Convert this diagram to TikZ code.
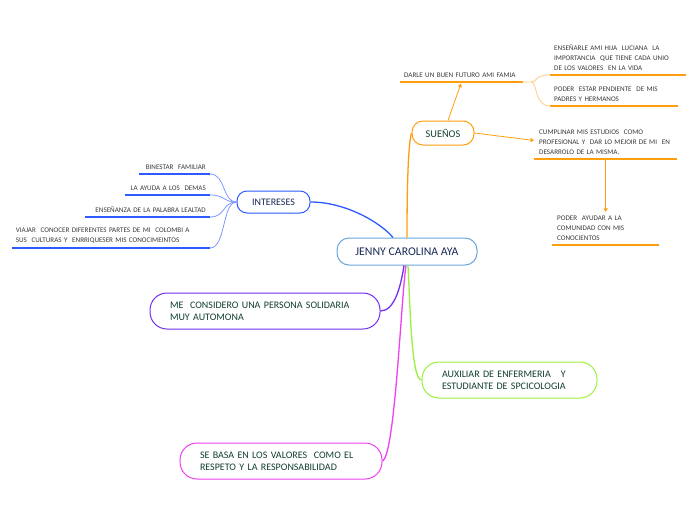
\documentclass[tikz,border=0pt]{standalone}
\usepackage{fontspec}
\setmainfont{Carlito}
\usetikzlibrary{arrows.meta}
\definecolor{cblue}{HTML}{6AA6DA}
\definecolor{navy}{HTML}{1B2A55}
\definecolor{dgreen}{HTML}{123F2E}
\definecolor{orng}{HTML}{FF9F10}
\definecolor{lorng}{HTML}{FFCB85}
\definecolor{iblue}{HTML}{2E5BFF}
\definecolor{lblue}{HTML}{7D98FF}
\definecolor{purp}{HTML}{7330F0}
\definecolor{limec}{HTML}{9BF03C}
\definecolor{mag}{HTML}{F040F0}
\definecolor{gtext}{HTML}{3A3A3A}
\begin{document}
\begin{tikzpicture}[x=1pt,y=-1pt,
 box/.style={draw, line width=1pt, fill=white, inner ysep=0pt},
 mainbox/.style={box, font=\fontsize{10}{12}\selectfont, text=dgreen, align=left, inner xsep=20pt, minimum height=36pt, rounded corners=17pt},
 small/.style={font=\fontsize{7.1}{10}\selectfont, text=gtext, inner xsep=4pt, inner ysep=4pt},
 ul/.style={line width=1.6pt},
 conn/.style={line width=1.3pt},
 thin/.style={line width=0.8pt},
 arr/.style={-{Triangle[width=4pt,length=3.5pt]}}
]
\useasboundingbox[fill=white] (0,0) rectangle (696,520);

% main nodes
\node[box, draw=cblue, text=navy, font=\fontsize{11.8}{14}\selectfont, minimum width=140pt, minimum height=27pt, rounded corners=12pt] (c) at (407,251.5) {JENNY CAROLINA AYA};
\node[box, draw=orng, text=dgreen, font=\fontsize{10.3}{12}\selectfont, minimum width=62pt, minimum height=24pt, rounded corners=11pt] (sue) at (443,133) {SUEÑOS};
\node[box, draw=iblue, text=navy, font=\fontsize{10}{12}\selectfont, minimum width=73pt, minimum height=22pt, rounded corners=10pt] (inte) at (273.5,202) {INTERESES};
\node[mainbox, draw=purp, text width=190pt] (me) at (265,311) {ME\ \ CONSIDERO UNA PERSONA SOLIDARIA\\MUY AUTOMONA};
\node[mainbox, draw=limec, text width=135pt] (aux) at (509.5,380) {AUXILIAR DE ENFERMERIA\ \ \ Y\\ESTUDIANTE DE SPCICOLOGIA};
\node[mainbox, draw=mag, text width=162pt] (seb) at (281,461) {SE BASA EN LOS VALORES\ \ COMO EL\\RESPETO Y LA RESPONSABILIDAD};

% connectors from centre
\draw[iblue, conn] (inte.east) .. controls (345,202) and (380,222) .. ([xshift=-14pt]c.north);
\draw[orng, conn] (c.north) .. controls (407,190) and (408,145) .. (sue.west);
\draw[purp, conn] (me.east) .. controls (395,311) and (401,285) .. ([xshift=-3pt]c.south);
\draw[mag, conn] (seb.east) .. controls (395,455) and (401,300) .. ([xshift=-1pt]c.south);
\draw[limec, conn] (aux.west) .. controls (411,380) and (410,300) .. ([xshift=1pt]c.south);

% INTERESES items
\node[small, anchor=south east, text width=63pt, align=right] (bin) at (210,174) {BINESTAR\ \ FAMILIAR};
\node[small, anchor=south east, text width=77pt, align=right] (lay) at (210,195) {LA AYUDA A LOS\ \ DEMAS};
\node[small, anchor=south east, text width=117pt, align=right] (ens2) at (210,217) {ENSEÑANZA DE LA PALABRA LEALTAD};
\node[small, anchor=south east, text width=190pt, align=left] (via) at (210,248) {VIAJAR\ \ CONOCER DIFERENTES PARTES\ DE MI\ \ COLOMBI A\\SUS\ \ CULTURAS Y\ \ ENRRIQUESER\ MIS CONOCIMEINTOS};
\foreach \n in {bin,lay,ens2,via}{\draw[iblue, ul] (\n.south west) -- (\n.south east);}
\draw[lblue, thin] (inte.west) .. controls (222,202) and (226,174) .. (bin.south east);
\draw[lblue, thin] (inte.west) .. controls (222,202) and (226,195) .. (lay.south east);
\draw[lblue, thin] (inte.west) .. controls (222,202) and (226,217) .. (ens2.south east);
\draw[lblue, thin] (inte.west) .. controls (222,202) and (226,248) .. (via.south east);

% SUEÑOS items
\node[small, anchor=south west, text width=115pt, align=left] (dar) at (400,82) {DARLE UN BUEN FUTURO AMI FAMIA};
\node[small, anchor=south west, text width=128pt, align=left] (ens) at (550,75) {ENSEÑARLE AMI HIJA\ \ LUCIANA\ \ LA\\IMPORTANCIA\ \ QUE TIENE CADA UNIO\\DE LOS VALORES\ \ EN LA VIDA};
\node[small, anchor=south west, text width=120pt, align=left] (pod) at (550,106) {PODER\ \ ESTAR PENDIENTE\ \ DE MIS\\PADRES Y HERMANOS};
\node[small, anchor=south west, text width=133pt, inner xsep=5pt, align=left] (cum) at (534,159) {CUMPLINAR MIS ESTUDIOS\ \ COMO\\PROFESIONAL Y\ \ DAR LO MEJOIR\ DE MI\ \ EN\\DESARROLO DE LA MISMA.};
\node[small, anchor=south west, text width=97pt, inner xsep=5pt, align=left] (ayd) at (552,245) {PODER\ \ AYUDAR A LA\\COMUNIDAD CON MIS\\CONOCIENTOS};
\foreach \n in {dar,ens,pod,cum,ayd}{\draw[orng, ul] (\n.south west) -- (\n.south east);}
\draw[lorng, thin] (dar.south east) -- ([xshift=8pt]dar.south east) .. controls ([xshift=14pt]dar.south east) and ([xshift=-16pt]ens.south west) .. (ens.south west);
\draw[lorng, thin] ([xshift=8pt]dar.south east) .. controls ([xshift=14pt]dar.south east) and ([xshift=-16pt]pod.south west) .. (pod.south west);
\draw[orng, thin, arr] ([xshift=5pt]sue.north) -- ([xshift=61pt,yshift=-1.5pt]dar.south west);
\draw[orng, thin, arr] (sue.east) -- ([yshift=2pt]cum.west);
\draw[orng, thin, arr] ([yshift=-1pt]cum.south) -- (ayd.north);
\end{tikzpicture}
\end{document}
